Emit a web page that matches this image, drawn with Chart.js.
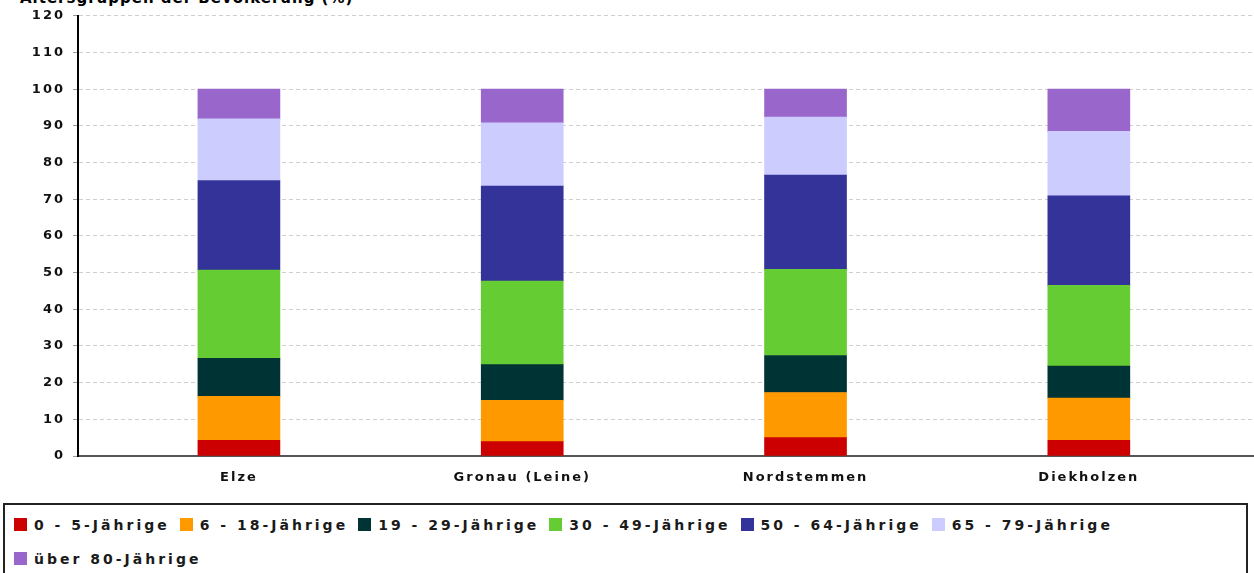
<!DOCTYPE html>
<html lang="de">
<head>
    <meta charset="UTF-8">
    <title>Altersgruppen</title>
    <script src="https://cdn.jsdelivr.net/npm/chart.js@4.4.1/dist/chart.umd.min.js"></script>
    <style>
        body { margin: 0; background: #fff; width: 1254px; height: 573px; overflow: hidden; position: relative; font-family: "DejaVu Sans", sans-serif; }
        #title { position: absolute; left: 20px; top: -11px; font: bold 15px "DejaVu Sans", sans-serif; letter-spacing: 1px; color: #000; }
        #wrap { position: absolute; left: 0; top: 0; width: 1254px; height: 500px; }
        #legend { position: absolute; left: 3px; top: 503px; width: 1245px; height: 80px; border: 2px solid #222; box-sizing: border-box; padding: 10px 0 0 9px; }
        .item { display: inline-block; margin-right: 10px; height: 32px; line-height: 24px; font: bold 14px "DejaVu Sans", sans-serif; letter-spacing: 3px; color: #1a1a1a; white-space: nowrap; }
        .sw { display: inline-block; width: 13px; height: 13px; vertical-align: -1px; margin-right: 7px; }
    </style>
</head>
<body>
    <div id="title">Altersgruppen der Bevölkerung (%)</div>
    <div id="wrap"><canvas id="chart" width="1254" height="500"></canvas></div>
    <div id="legend"></div>
    <script>
        // Gemeinden
        const categories = ['Elze', 'Gronau (Leine)', 'Nordstemmen', 'Diekholzen'];
        const yTicks = [0, 10, 20, 30, 40, 50, 60, 70, 80, 90, 100, 110, 120];

        // Anteile in Prozent je Altersgruppe
        const age0to5   = [4.3, 3.9, 5.0, 4.3];
        const age6to18  = [12.0, 11.3, 12.3, 11.5];
        const age19to29 = [10.3, 9.7, 10.1, 8.7];
        const age30to49 = [24.1, 22.8, 23.5, 22.0];
        const age50to64 = [24.4, 25.9, 25.7, 24.4];
        const age65to79 = [16.8, 17.2, 15.8, 17.6];
        const age80plus = [8.1, 9.2, 7.6, 11.5];

        const series = [
            { label: '0 - 5-Jährige', data: age0to5, color: '#cc0000' },
            { label: '6 - 18-Jährige', data: age6to18, color: '#ff9900' },
            { label: '19 - 29-Jährige', data: age19to29, color: '#003333' },
            { label: '30 - 49-Jährige', data: age30to49, color: '#66cc33' },
            { label: '50 - 64-Jährige', data: age50to64, color: '#333399' },
            { label: '65 - 79-Jährige', data: age65to79, color: '#ccccff' },
            { label: 'über 80-Jährige', data: age80plus, color: '#9966cc' }
        ];

        const tickFont = { family: 'DejaVu Sans', size: 13, weight: 'bold' };

        // canvas has no css letter-spacing, set it on the context
        const spacing = {
            id: 'spacing',
            beforeInit(chart) { chart.ctx.letterSpacing = '2px'; },
            beforeUpdate(chart) { chart.ctx.letterSpacing = '2px'; },
            beforeDraw(chart) { chart.ctx.letterSpacing = '2px'; }
        };

        const ctx = document.getElementById('chart').getContext('2d');
        const chart = new Chart(ctx, {
            type: 'bar',
            data: {
                datasets: series.map(s => ({
                    label: s.label,
                    data: s.data.map((v, i) => ({ x: i, y: v })),
                    backgroundColor: s.color,
                    borderWidth: 0,
                    barThickness: 82
                }))
            },
            options: {
                responsive: false,
                animation: false,
                devicePixelRatio: 1,
                layout: { padding: { top: 13, right: 0, bottom: 0, left: 0 } },
                plugins: { legend: { display: false }, tooltip: { enabled: false } },
                scales: {
                    x: {
                        type: 'linear',
                        stacked: true,
                        offset: false,
                        min: -0.568,
                        max: 3.583,
                        afterBuildTicks: scale => { scale.ticks = categories.map((c, i) => ({ value: i })); },
                        afterFit: scale => { scale.height = 44; },
                        ticks: {
                            callback: v => categories[v],
                            font: tickFont,
                            color: '#111',
                            padding: 6,
                            autoSkip: false,
                            maxRotation: 0
                        },
                        grid: { display: false },
                        border: { display: true, color: '#555', width: 2 }
                    },
                    y: {
                        stacked: true,
                        min: 0,
                        max: 120,
                        afterBuildTicks: scale => { scale.ticks = yTicks.map(v => ({ value: v })); },
                        afterFit: scale => { scale.width = 78; },
                        ticks: { font: tickFont, color: '#111', padding: 8, autoSkip: false },
                        grid: {
                            color: '#cfcfcf',
                            tickColor: '#999',
                            tickLength: 5,
                            tickBorderDash: [],
                            drawTicks: true
                        },
                        border: { color: '#000', width: 2, dash: [4, 3] }
                    }
                }
            },
            plugins: [spacing]
        });

        // Legende
        const legend = document.getElementById('legend');
        series.forEach(s => {
            const item = document.createElement('span');
            item.className = 'item';
            item.innerHTML = '<span class="sw" style="background:' + s.color + '"></span>' + s.label;
            legend.appendChild(item);
        });
    </script>
</body>
</html>
